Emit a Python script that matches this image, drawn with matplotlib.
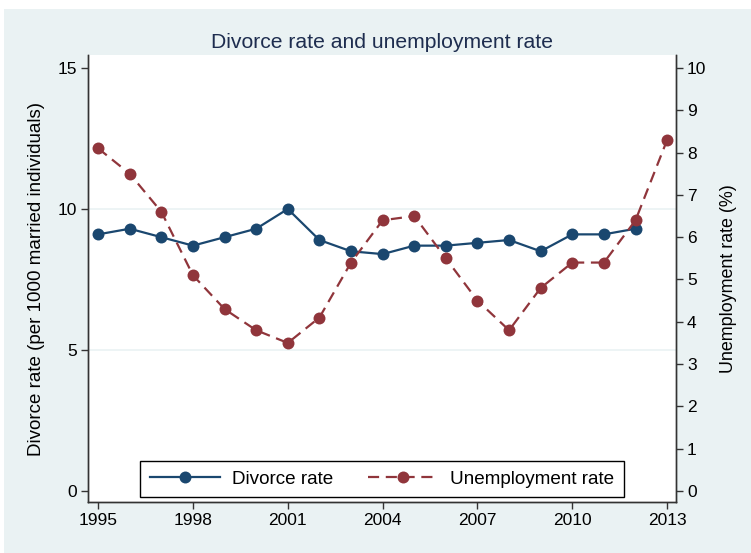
import numpy as np
import matplotlib.pyplot as plt
from matplotlib.patches import Rectangle

plt.rcParams['font.family'] = ['Liberation Sans', 'DejaVu Sans']

# Data
years_div = list(range(1995, 2013))
divorce = [9.1, 9.3, 9.0, 8.7, 9.0, 9.3, 10.0, 8.9, 8.5, 8.4,
           8.7, 8.7, 8.8, 8.9, 8.5, 9.1, 9.1, 9.3]
years_unemp = list(range(1995, 2014))
unemp = [8.1, 7.5, 6.6, 5.1, 4.3, 3.8, 3.5, 4.1, 5.4, 6.4,
         6.5, 5.5, 4.5, 3.8, 4.8, 5.4, 5.4, 6.4, 8.3]
xticks = [1995, 1998, 2001, 2004, 2007, 2010, 2013]
left_ticks = [0, 5, 10, 15]
right_ticks = list(range(0, 11))

navy = '#1a476f'
maroon = '#90353b'
bg = '#eaf2f3'
axcol = '#333333'

W, H = 751, 553
fig = plt.figure(figsize=(W / 100, H / 100), dpi=100, facecolor='white')
# light stata-like background (screenshot has a thin white edge top/left)
fig.add_artist(Rectangle((4 / W, 0), 1, 1 - 9 / H, transform=fig.transFigure,
                         facecolor=bg, edgecolor='none', zorder=-10))

ax = fig.add_axes([88 / W, 51 / H, (676 - 88) / W, (502 - 55) / H])
ax.set_facecolor('white')
ax2 = ax.twinx()

ylo, yhi = -0.39, 15.46
ax.set_ylim(ylo, yhi)
ax2.set_ylim(ylo * 10 / 15, yhi * 10 / 15)
ax.set_xlim(1994.68, 2013.28)

for a in (ax, ax2):
    for s in a.spines.values():
        s.set_color(axcol)
        s.set_linewidth(1.0)
    a.spines['top'].set_visible(False)

ax.set_yticks(left_ticks)
ax2.set_yticks(right_ticks)
ax.set_xticks(xticks)
ax.tick_params(axis='both', direction='out', length=5, width=1.0, color=axcol,
               labelsize=12.5, pad=3)
ax2.tick_params(axis='y', direction='out', length=5, width=1.0, color=axcol,
                labelsize=12.5, pad=3)

for g in (5, 10):
    ax.axhline(g, color=bg, lw=1.2, zorder=0.5)

ln1, = ax.plot(years_div, divorce, '-o', color=navy, lw=1.6, markersize=8.6,
               markeredgewidth=0, zorder=3)
ln2, = ax2.plot(years_unemp, unemp, 'o', linestyle=(0, (5, 3)), color=maroon,
                lw=1.6, markersize=8.6, markeredgewidth=0, zorder=3)

ax.set_ylabel('Divorce rate (per 1000 married individuals)', fontsize=13.5, labelpad=9)
ax2.set_ylabel('Unemployment rate (%)', fontsize=12.9, labelpad=10)
fig.text((88 + 676) / 2 / W, 1 - 42 / H, 'Divorce rate and unemployment rate',
         ha='center', va='center', fontsize=15.2, color='#1e2d4f')

leg = ax2.legend([ln1, ln2], ['Divorce rate', 'Unemployment rate'], ncol=2,
                 loc='lower center', bbox_to_anchor=(0.5, 0.011), borderaxespad=0,
                 fontsize=13.6, frameon=True, fancybox=False, handlelength=3.75,
                 columnspacing=1.8, handletextpad=0.63, borderpad=0.5)
leg.get_frame().set_edgecolor('black')
leg.get_frame().set_linewidth(1.0)
leg.get_frame().set_facecolor('white')
leg.get_frame().set_alpha(1)

fig.savefig('out.png', dpi=100, facecolor='white')
